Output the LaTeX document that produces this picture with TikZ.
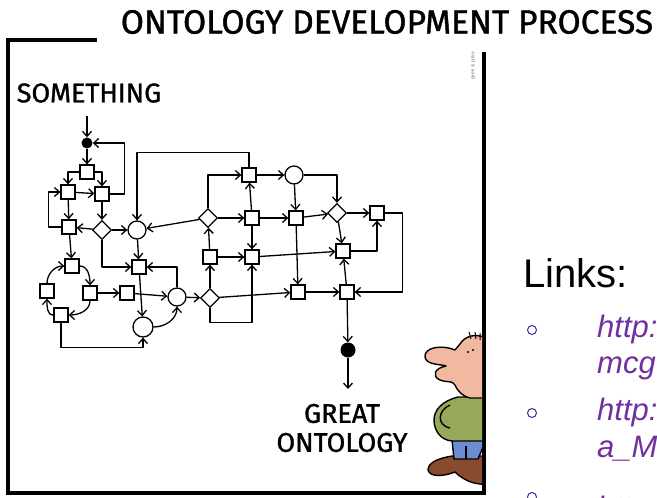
\documentclass[tikz,border=0pt]{standalone}
\usepackage{fontspec}
\setmainfont{Liberation Sans}
\newfontfamily\handfont[FakeBold=1.2]{Fira Sans}
\usepackage{xcolor}
\usetikzlibrary{arrows.meta,shapes.geometric}

\definecolor{linkpurple}{HTML}{7030A0}
\definecolor{bulletblue}{HTML}{3030A8}
\definecolor{skin}{HTML}{F2B8A0}
\definecolor{shirt}{HTML}{96A85A}
\definecolor{jeans}{HTML}{6A8ED0}
\definecolor{shoe}{HTML}{8A4A2E}

\tikzset{
	sq/.style={draw, line width=1.3pt, minimum size=14pt, inner sep=0pt},
	rnd/.style={draw, circle, line width=1.3pt, minimum size=18pt, inner sep=0pt},
	dia/.style={draw, diamond, line width=1.3pt, minimum size=19pt, inner sep=0pt},
	blob/.style={circle, fill=black, minimum size=11pt, inner sep=0pt},
	flow/.style={-{Straight Barb[length=5pt,width=9pt]}, line width=1.3pt, line join=round},
	hand/.style={font=\handfont\fontsize{27}{29}\selectfont, align=center},
	bullet/.style={draw=bulletblue, circle, line width=1pt, minimum size=9pt, inner sep=0pt},
	url/.style={anchor=base west, text=linkpurple, font=\itshape\fontsize{31}{31}\selectfont, inner sep=0pt},
}

\begin{document}
\begin{tikzpicture}[x=1pt,y=-1pt]
	\useasboundingbox (0,0) rectangle (657,498);
	\clip (0,0) rectangle (657,498);

	% title and frame
	\node[hand, font=\handfont\fontsize{33.5}{36}\selectfont] (title) at (387,22) {ONTOLOGY DEVELOPMENT PROCESS};
	\draw[line width=4pt] (97,40) -- (8,40) -- (8,493) -- (484,493) -- (484,52);
	\node[rotate=90, gray, font=\fontsize{5}{5}\selectfont] (credit) at (473,66) {geek \& poke};

	% start and end
	\node[hand] (something) at (89,93) {SOMETHING};
	\node[hand] (great) at (342,428) {GREAT\\ONTOLOGY};
	\coordinate (in) at (87,116);
	\coordinate (out) at (348,389);
	\node[blob] (dot1) at (87,143) {};
	\node[blob, minimum size=15pt] (dot2) at (348,350) {};

	% left cluster
	\node[sq] (b1) at (87,172) {};
	\node[sq] (b2) at (68,192) {};
	\node[sq] (b3) at (102,194) {};
	\node[sq] (b4) at (69,227) {};
	\node[dia] (d1) at (102,230) {};
	\node[rnd] (c1) at (137,230) {};
	\node[sq] (b15) at (139,267) {};

	% ring at the bottom left
	\node[sq] (b18) at (72,266) {};
	\node[sq] (b19) at (47,291) {};
	\node[sq] (b17) at (90,293) {};
	\node[sq] (b20) at (61,315) {};
	\node[sq] (b16) at (127,293) {};
	\node[rnd] (c3) at (177,297) {};
	\node[rnd, minimum size=20pt] (c4) at (143,327) {};
	\node[dia] (d4) at (210,298) {};

	% middle block
	\node[dia] (d2) at (208,218) {};
	\node[sq] (b5) at (249,175) {};
	\node[sq] (b6) at (252,218) {};
	\node[sq] (b8) at (210,257) {};
	\node[sq] (b7) at (252,257) {};

	% right block
	\node[rnd] (c2) at (294,175) {};
	\node[sq] (b9) at (296,218) {};
	\node[dia] (d3) at (337,213) {};
	\node[sq] (b10) at (377,213) {};
	\node[sq] (b11) at (343,251) {};
	\node[sq] (b13) at (298,292) {};
	\node[sq] (b12) at (347,292) {};

	\draw[flow] (in) -- (dot1);
	\draw[flow] (dot1) -- (b1);
	\draw[flow] (b1.west) -| (b2.north);
	\draw[flow] (b1.east) -| (b3.north);
	\draw[flow] (b2) -- (b3);
	\draw[flow] (b3.east) -- ++(15,0) |- (dot1.east);
	\draw[flow] (b2) -- (b4);
	\draw[flow] (b4.west) -- ++(-13,0) |- (b2.west);
	\draw[flow] (b3) -- (d1);
	\draw[flow] (d1) -- (b4);
	\draw[flow] (d1) -- (c1);
	\draw[flow] (c1) -- (b15);
	\draw[flow] (d1.south) |- (b15.west);
	\draw[flow] (c3.north) |- (b15.east);
	\draw[flow] (b15) -- (c4);

	\draw[flow] (b4) -- (b18);
	\draw[flow] (b18.east) to[out=0, in=90] (b17.north);
	\draw[flow] (b17.south) to[out=-90, in=0] (b20.east);
	\draw[flow] (b20.west) to[out=180, in=-90] (b19.south);
	\draw[flow] (b19.north) to[out=90, in=180] (b18.west);
	\draw[flow] (b17) -- (b16);
	\draw[flow] (b16) -- (c3);
	\draw[flow] (b20.south) -- ++(0,25) -| (c4.south);
	\draw[flow] (c4.east) to[out=0, in=-90] (c3.south);
	\draw[flow] (c3) -- (d4);

	\draw[flow] (b5.north) -- ++(0,-15) -| (c1.north);
	\draw[flow] (d2) -- (c1);
	\draw[flow] (d2.north) |- (b5.west);
	\draw[flow] (d2) -- (b6);
	\draw[flow] (b6) -- (b5);
	\draw[flow] (b6) -- (b7);
	\draw[flow] (b8) -- (d2);
	\draw[flow] (b8) -- (b7);
	\draw[flow] (d4) -- (b8);
	\draw[flow] (d4) -- (b13);
	\draw[flow] (d4.south) -- ++(0,14) -| (b7.south);

	\draw[flow] (b5) -- (c2);
	\draw[flow] (b6) -- (b9);
	\draw[flow] (c2) -- (b9);
	\draw[flow] (c2.east) -| (d3.north);
	\draw[flow] (b9) -- (d3);
	\draw[flow] (d3) -- (b10);
	\draw[flow] (d3) -- (b11);
	\draw[flow] (b11.east) -| (b10.south);
	\draw[flow] (b7) -- (b11);
	\draw[flow] (b10.east) -- ++(18,0) |- (b12.east);
	\draw[flow] (b9) -- (b13);
	\draw[flow] (b13) -- (b12);
	\draw[flow] (b12) -- (b11);
	\draw[flow] (b12) -- (dot2);
	\draw[flow] (dot2) -- (out);

	% the onlooker, cut off by the frame
	\begin{scope}[line width=1.4pt, line join=round]
		\clip (400,330) rectangle (482,491);
		\draw[fill=shoe] (452,456) .. controls (440,458) and (428,462) .. (428,470)
			.. controls (430,478) and (445,476) .. (455,472)
			.. controls (465,482) and (478,485) .. (486,484) -- (486,456) -- cycle;
		\draw[fill=jeans] (452,440) -- (454,459) -- (478,459) -- (486,440) -- cycle;
		\draw (466,446) -- (466,459);
		\draw[fill=shirt] (486,397) -- (458,397) .. controls (442,401) and (434,410) .. (434,420)
			.. controls (434,430) and (440,440) .. (452,441) -- (486,441) -- cycle;
		\draw (450,405) .. controls (438,410) and (436,425) .. (450,428);
		\draw[fill=skin] (486,338) .. controls (475,333) and (465,336) .. (460,344) -- (455,350)
			.. controls (440,344) and (424,348) .. (425,357)
			.. controls (426,365) and (440,364) .. (446,366)
			.. controls (435,368) and (431,376) .. (440,380)
			.. controls (448,383) and (452,380) .. (455,385)
			.. controls (458,392) and (464,397) .. (470,398) -- (486,398) -- cycle;
		\fill (468,352) circle[radius=1.2] (473,350) circle[radius=1.2];
		\draw[line width=1pt] (471,339) -- (469,332) (476,339) -- (475,332) (480,340) -- (480,333);
	\end{scope}

	% slide text
	\node[anchor=base west, inner sep=0pt, font=\fontsize{40}{40}\selectfont] (links) at (523,287) {Links:};
	\node[bullet] (o1) at (532,330) {};
	\node[bullet] (o2) at (532,413) {};
	\node[bullet] (o3) at (532,497) {};
	\node[url] (u1) at (597,337) {http:};
	\node[url] (u1b) at (597,373) {mcg};
	\node[url] (u2) at (597,420) {http:};
	\node[url] (u2b) at (597,457) {a\_M};
	\node[url] (u3) at (597,518) {http:};
\end{tikzpicture}
\end{document}
